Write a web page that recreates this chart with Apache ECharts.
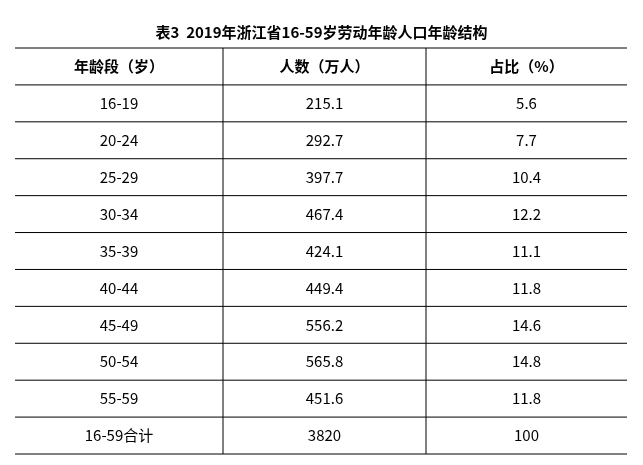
<!DOCTYPE html><html><head><meta charset="utf-8"><script src="https://cdn.jsdelivr.net/npm/echarts@6/dist/echarts.min.js"></script></head><body style="margin:0;background:#fff"><div id="c" style="width:643px;height:465px"></div><script>
const title='表3  2019年浙江省16-59岁劳动年龄人口年龄结构';
const headers=['年龄段（岁）','人数（万人）','占比（%）'];
const ages=['16-19','20-24','25-29','30-34','35-39','40-44','45-49','50-54','55-59','16-59合计'];
const people=['215.1','292.7','397.7','467.4','424.1','449.4','556.2','565.8','451.6','3820'];
const shares=['5.6','7.7','10.4','12.2','11.1','11.8','14.6','14.8','11.8','100'];
const colEdges=[0,208,411,612];
const rows=['h'].concat(ages.map((_,i)=>'r'+i));
const data=[];
headers.forEach((h,c)=>data.push([c,0,h,1]));
for(let i=0;i<ages.length;i++){[ages[i],people[i],shares[i]].forEach((t,c)=>data.push([c,i+1,t,0]));}
const chart=echarts.init(document.getElementById('c'));
chart.setOption({
title:{text:title,left:'center',top:20,textStyle:{fontFamily:'Noto Sans CJK SC',fontSize:15,fontWeight:'bold',color:'#000'}},
grid:{left:15,right:16,top:48,bottom:11},
xAxis:{type:'value',min:0,max:612,show:false},
yAxis:{type:'category',data:rows,inverse:true,show:false},
series:[{type:'custom',data:data,renderItem:function(p,api){
 const c=api.value(0),r=api.value(1);
 const x0=api.coord([colEdges[c],r])[0],x1=api.coord([colEdges[c+1],r])[0];
 const sz=api.size([1,1]);const h=sz[1];const yc=api.coord([0,r])[1];
 const y0=yc-h/2,y1=yc+h/2;
 const ch=[{type:'line',shape:{x1:x0,y1:y1,x2:x1,y2:y1},style:{stroke:'#000',lineWidth:1}}];
 if(r===0)ch.push({type:'line',shape:{x1:x0,y1:y0,x2:x1,y2:y0},style:{stroke:'#000',lineWidth:1}});
 if(c>0)ch.push({type:'line',shape:{x1:x0,y1:y0,x2:x0,y2:y1},style:{stroke:'#000',lineWidth:1}});
 ch.push({type:'text',style:{text:data[p.dataIndex][2],x:(x0+x1)/2,y:yc,align:'center',verticalAlign:'middle',fontFamily:'Noto Sans CJK SC',fontSize:15,fontWeight:api.value(3)?'bold':'normal',fill:'#000'}});
 return {type:'group',children:ch};
}}]
});
</script></body></html>
